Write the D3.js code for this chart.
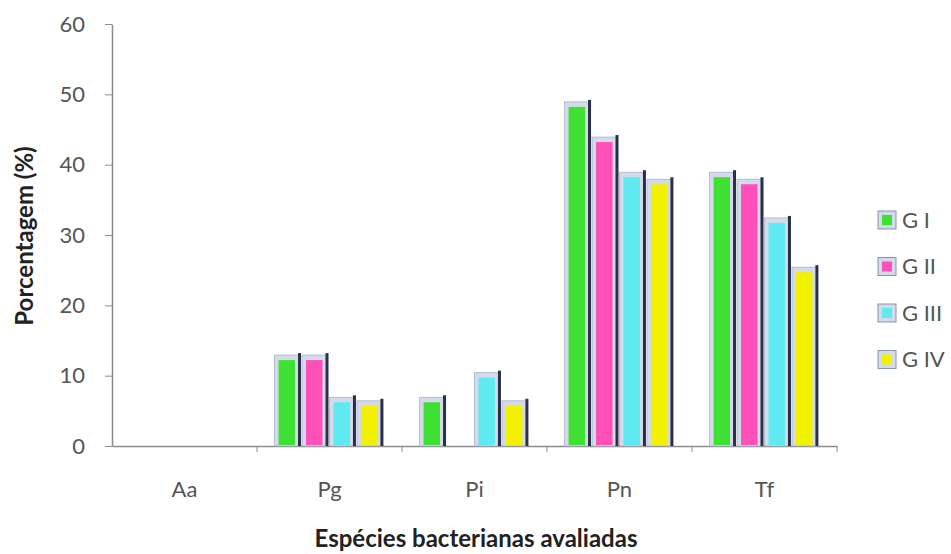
<!DOCTYPE html>
<html lang="pt">
<head>
    <meta charset="UTF-8"/>
    <title>Espécies bacterianas</title>
    <script src="https://d3js.org/d3.v7.min.js"></script>
    <style>
        body { margin: 0; background: #fff; }
        text { font-family: Lato, "Open Sans", sans-serif; }
    </style>
</head>
<body>
<div id="chart"></div>
<script>
    // data
    const categories = ["Aa", "Pg", "Pi", "Pn", "Tf"];
    const groups = ["G I", "G II", "G III", "G IV"];
    const gI = [0, 12.5, 6.5, 48.5, 38.5];
    const gII = [0, 12.5, 0, 43.5, 37.5];
    const gIII = [0, 6.5, 10, 38.5, 32];
    const gIV = [0, 6, 6, 37.5, 25];
    const yTicks = [0, 10, 20, 30, 40, 50, 60];
    const colors = ["#3ee034", "#ff4fb8", "#5eeaf0", "#f2f200"];

    const series = [gI, gII, gIII, gIV];

    const width = 951, height = 554;
    const plot = {left: 112, right: 837, top: 24, bottom: 446};

    const svg = d3.select("#chart")
        .append("svg")
        .attr("width", width)
        .attr("height", height);

    const x = d3.scaleBand()
        .domain(categories)
        .range([plot.left, plot.right]);

    const xInner = d3.scaleBand()
        .domain(groups)
        .range([0, x.bandwidth()])
        .paddingOuter(0.64);

    const y = d3.scaleLinear()
        .domain([0, 60])
        .range([plot.bottom, plot.top]);

    // Y axis
    const yAxis = svg.append("g")
        .attr("transform", `translate(${plot.left}, 0)`)
        .call(d3.axisLeft(y).tickValues(yTicks).tickSize(7).tickPadding(20).tickSizeOuter(0));
    yAxis.select(".domain").attr("stroke", "#8c8c8c").attr("stroke-width", 1.5);
    yAxis.selectAll(".tick line").attr("stroke", "#8c8c8c");
    yAxis.selectAll(".tick text")
        .style("font-size", "22px")
        .attr("fill", "#555");

    // X axis
    const xAxis = svg.append("g")
        .attr("transform", `translate(0, ${plot.bottom})`)
        .call(d3.axisBottom(x).tickSize(0).tickPadding(35).tickSizeOuter(0));
    xAxis.select(".domain").attr("stroke", "#8c8c8c").attr("stroke-width", 1.5);
    xAxis.selectAll(".tick text")
        .style("font-size", "22px")
        .attr("fill", "#555");

    // category boundary ticks
    svg.append("g")
        .selectAll("line")
        .data(categories.slice(1).map(c => x(c)).concat([x.range()[1]]))
        .join("line")
        .attr("x1", d => d).attr("x2", d => d)
        .attr("y1", plot.bottom).attr("y2", plot.bottom + 6)
        .attr("stroke", "#8c8c8c");

    // bars, drawn with a little 3d look like the original
    const bars = [];
    categories.forEach((c, i) => {
        groups.forEach((g, j) => {
            if (series[j][i] > 0) bars.push({cat: c, grp: g, j: j, value: series[j][i]});
        });
    });

    const bw = xInner.bandwidth();
    const barG = svg.append("g")
        .selectAll("g")
        .data(bars)
        .join("g")
        .attr("transform", d => `translate(${x(d.cat) + xInner(d.grp)}, 0)`);

    // light frame
    barG.append("rect")
        .attr("x", 0)
        .attr("y", d => y(d.value) - 3)
        .attr("width", bw - 3)
        .attr("height", d => plot.bottom - y(d.value) + 3)
        .attr("fill", "#d3dae9")
        .attr("stroke", "#a9b3cb")
        .attr("stroke-width", 0.8);

    // coloured face
    barG.append("rect")
        .attr("x", 4)
        .attr("y", d => y(d.value) + 2)
        .attr("width", bw - 11)
        .attr("height", d => plot.bottom - y(d.value) - 3)
        .attr("fill", d => colors[d.j]);

    // dark side
    barG.append("rect")
        .attr("x", bw - 4)
        .attr("y", d => y(d.value) - 5)
        .attr("width", 3)
        .attr("height", d => plot.bottom - y(d.value) + 5)
        .attr("fill", "#2b3048");

    // legend
    const legend = svg.append("g")
        .selectAll("g")
        .data(groups)
        .join("g")
        .attr("transform", (d, i) => `translate(878, ${220 + i * 46.5})`);

    legend.append("rect")
        .attr("x", 0).attr("y", -9)
        .attr("width", 18).attr("height", 18)
        .attr("fill", "#d3dae9")
        .attr("stroke", "#8a94b0");
    legend.append("rect")
        .attr("x", 4).attr("y", -5)
        .attr("width", 10).attr("height", 10)
        .attr("fill", (d, i) => colors[i]);

    legend.append("text")
        .attr("x", 24)
        .attr("y", 0)
        .attr("dy", "0.35em")
        .style("font-size", "22px")
        .attr("fill", "#555")
        .text(d => d);

    // axis titles
    svg.append("text")
        .attr("transform", `translate(33, 236) rotate(-90)`)
        .style("text-anchor", "middle")
        .style("font-size", "24px")
        .style("font-weight", "bold")
        .attr("fill", "#222")
        .text("Porcentagem (%)");

    svg.append("text")
        .attr("x", 476)
        .attr("y", 547)
        .style("text-anchor", "middle")
        .style("font-size", "24px")
        .style("font-weight", "bold")
        .attr("fill", "#222")
        .text("Espécies bacterianas avaliadas");
</script>
</body>
</html>
